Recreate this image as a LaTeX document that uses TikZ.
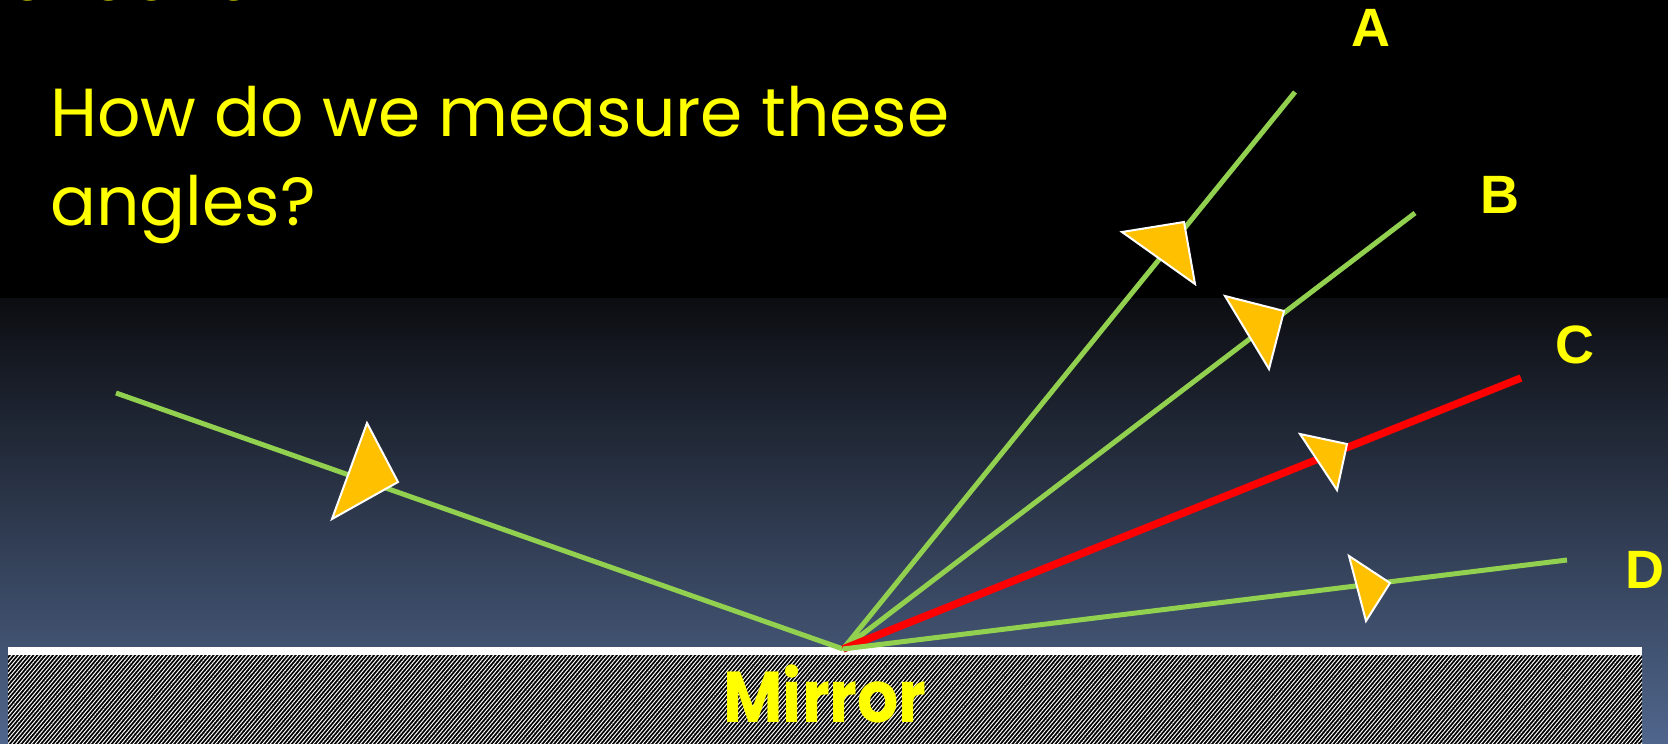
\documentclass[tikz,border=0pt]{standalone}
\usepackage{fontspec}
\newfontfamily\slidefont{Poppins}
\newfontfamily\labelfont{Liberation Sans}
\usepackage{tikz}
\usetikzlibrary{
  patterns.meta % hatching of the mirror back
}
\definecolor{raygreen}{RGB}{146,208,80}
\definecolor{rayred}{RGB}{255,0,0}
\definecolor{arrowgold}{RGB}{255,192,0}
\definecolor{textyellow}{RGB}{255,255,0}
\definecolor{skytop}{RGB}{12,13,17}
\definecolor{skybottom}{RGB}{80,102,140}

\begin{document}
\begin{tikzpicture}[x=1pt, y=-1pt,
  ray/.style={raygreen, line width=5pt},
  redray/.style={rayred, line width=7.5pt},
  arrowtri/.style={fill=arrowgold, draw=white, line width=2pt, line join=miter},
  slidetext/.style={text=textyellow, inner sep=0pt, anchor=base west,
    font=\slidefont\fontsize{68}{68}\selectfont},
  raylabel/.style={text=textyellow, inner sep=0pt,
    font=\labelfont\bfseries\fontsize{54}{54}\selectfont}]
  % page and background
  \useasboundingbox (0,0) rectangle (1668,744);
  \fill[black] (0,0) rectangle (1668,298);
  \shade[top color=skytop, bottom color=skybottom] (0,298) rectangle (1668,744);

  % heading, cut by the top edge
  \begin{scope}
    \clip (0,0) rectangle (1668,744);
    \node[slidetext, anchor=base east] (title) at (300,1) {Reflection};
  \end{scope}

  % question
  \node[slidetext] (askA) at (50,136) {How do we measure these};
  \node[slidetext] (askB) at (50,225) {angles?};

  % mirror: white face and hatched back
  \fill[white] (8,647) rectangle (1642,655);
  \fill[black] (8,655) rectangle (1642,744);
  \fill[pattern={Lines[angle=50, distance=3pt, line width=1pt]},
    pattern color=white] (8,655) rectangle (1642,744);
  \node[text=textyellow, inner sep=0pt, anchor=base,
    font=\slidefont\bfseries\fontsize{72}{72}\selectfont]
    (mirror) at (825,722) {\scalebox{0.9}[1]{Mirror}};

  % rays
  \coordinate (hit) at (843,649);
  \coordinate (src) at (116,393);
  \coordinate (endA) at (1295,92);
  \coordinate (endB) at (1415,213);
  \coordinate (endC) at (1521,378);
  \coordinate (endD) at (1567,560);
  \draw[ray] (src) -- (hit);
  \draw[ray] (hit) -- (endA);
  \draw[ray] (hit) -- (endB);
  \draw[redray] (hit) -- (endC);
  \draw[ray] (hit) -- (endD);

  % arrowheads on the rays
  \filldraw[arrowtri] (367,423) -- (398,482) -- (332,519) -- cycle;
  \filldraw[arrowtri] (1122,232) -- (1184,222) -- (1195,284) -- cycle;
  \filldraw[arrowtri] (1225,296) -- (1284,311) -- (1269,369) -- cycle;
  \filldraw[arrowtri] (1300,434) -- (1347,444) -- (1337,490) -- cycle;
  \filldraw[arrowtri] (1349,556) -- (1390,583) -- (1366,621) -- cycle;

  % ray names
  \node[raylabel] (labA) at (1371,28) {A};
  \node[raylabel] (labB) at (1500,195) {B};
  \node[raylabel] (labC) at (1575,345) {C};
  \node[raylabel] (labD) at (1645,570) {D};
\end{tikzpicture}
\end{document}
